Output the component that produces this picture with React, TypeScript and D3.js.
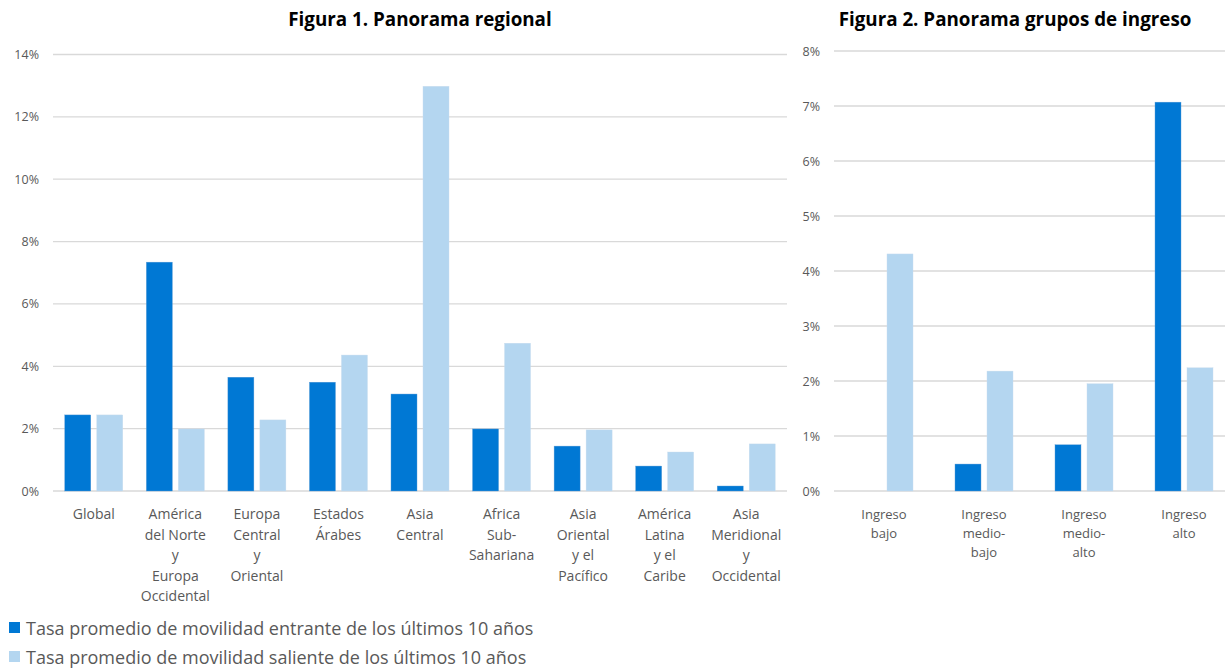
import React, { useEffect, useRef } from 'react';
import * as d3 from 'd3';

const regions = [
  ['Global'],
  ['América', 'del Norte', 'y', 'Europa', 'Occidental'],
  ['Europa', 'Central', 'y', 'Oriental'],
  ['Estados', 'Árabes'],
  ['Asia', 'Central'],
  ['Africa', 'Sub-', 'Sahariana'],
  ['Asia', 'Oriental', 'y el', 'Pacífico'],
  ['América', 'Latina', 'y el', 'Caribe'],
  ['Asia', 'Meridional', 'y', 'Occidental'],
];
const regionIn = [2.44, 7.34, 3.65, 3.49, 3.11, 1.99, 1.44, 0.8, 0.16];
const regionOut = [2.44, 1.99, 2.28, 4.36, 12.98, 4.74, 1.96, 1.25, 1.51];
const regionTicks = [0, 2, 4, 6, 8, 10, 12, 14];

const groups = [
  ['Ingreso', 'bajo'],
  ['Ingreso', 'medio-', 'bajo'],
  ['Ingreso', 'medio-', 'alto'],
  ['Ingreso', 'alto'],
];
const groupIn = [0, 0.49, 0.84, 7.07];
const groupOut = [4.31, 2.18, 1.95, 2.24];
const groupTicks = [0, 1, 2, 3, 4, 5, 6, 7, 8];

const seriesNames = [
  'Tasa promedio de movilidad entrante de los últimos 10 años',
  'Tasa promedio de movilidad saliente de los últimos 10 años',
];
const colors = { dark: '#0078D4', light: '#B4D6F0', grid: '#D9D9D9', text: '#595959' };
const font = '"Open Sans", "Noto Sans", sans-serif';

export default function App() {
  const ref = useRef<SVGSVGElement>(null);

  useEffect(() => {
    if (!ref.current) return;
    const svg = d3.select(ref.current);
    svg.selectAll('*').remove();

    const drawPanel = (opts: {
      labels: string[][]; a: number[]; b: number[]; ticks: number[];
      x0: number; x1: number; yTop: number; yBot: number; title: string; titleX: number;
      tickX: number; lineH: number; labelSize: number; barW: number; gap: number;
    }) => {
      const g = svg.append('g');
      const x = d3.scaleBand<number>().domain(opts.labels.map((_, i) => i)).range([opts.x0, opts.x1]);
      const y = d3.scaleLinear().domain([0, d3.max(opts.ticks)!]).range([opts.yBot, opts.yTop]);

      g.selectAll('line.grid').data(opts.ticks).enter().append('line')
        .attr('x1', opts.x0).attr('x2', opts.x1).attr('y1', d => y(d)).attr('y2', d => y(d))
        .attr('stroke', colors.grid).attr('stroke-width', 1.3);
      g.selectAll('text.tick').data(opts.ticks).enter().append('text')
        .attr('x', opts.tickX).attr('y', d => y(d) + 4.5).attr('text-anchor', 'end')
        .attr('font-family', font).attr('font-size', 12.5).attr('fill', colors.text)
        .text(d => `${d}%`);

      const bw = x.bandwidth();
      const off = (bw - 2 * opts.barW - opts.gap) / 2;
      g.selectAll('rect.a').data(opts.a).enter().append('rect')
        .attr('x', (_, i) => x(i)! + off).attr('width', opts.barW)
        .attr('y', d => y(d)).attr('height', d => opts.yBot - y(d))
        .attr('fill', colors.dark).attr('stroke', '#5b9bd5').attr('stroke-width', 0.4);
      g.selectAll('rect.b').data(opts.b).enter().append('rect')
        .attr('x', (_, i) => x(i)! + off + opts.barW + opts.gap).attr('width', opts.barW)
        .attr('y', d => y(d)).attr('height', d => opts.yBot - y(d))
        .attr('fill', colors.light).attr('stroke', '#c8dced').attr('stroke-width', 0.4);

      opts.labels.forEach((lines, i) => {
        const t = g.append('text').attr('text-anchor', 'middle')
          .attr('font-family', font).attr('font-size', opts.labelSize).attr('fill', colors.text);
        lines.forEach((ln, j) => {
          t.append('tspan').attr('x', x(i)! + bw / 2).attr('y', opts.yBot + 28 + j * opts.lineH).text(ln);
        });
      });

      g.append('text').attr('x', opts.titleX).attr('y', 26).attr('text-anchor', 'middle')
        .attr('font-family', font).attr('font-weight', 'bold').attr('font-size', 18.8).attr('fill', '#000')
        .text(opts.title);
    };

    drawPanel({
      labels: regions, a: regionIn, b: regionOut, ticks: regionTicks,
      x0: 53, x1: 787, yTop: 54.5, yBot: 491, title: 'Figura 1. Panorama regional', titleX: 420,
      tickX: 39, lineH: 20.5, labelSize: 14, barW: 26, gap: 6,
    });
    drawPanel({
      labels: groups, a: groupIn, b: groupOut, ticks: groupTicks,
      x0: 834, x1: 1234, yTop: 51, yBot: 491, title: 'Figura 2. Panorama grupos de ingreso', titleX: 1015,
      tickX: 820, lineH: 19, labelSize: 13, barW: 26, gap: 6,
    });

    const legend = svg.append('g');
    [colors.dark, colors.light].forEach((c, i) => {
      legend.append('rect').attr('x', 9).attr('y', 622 + i * 29).attr('width', 11).attr('height', 11).attr('fill', c);
      legend.append('text').attr('x', 26).attr('y', 635 + i * 29)
        .attr('font-family', font).attr('font-size', 18).attr('fill', colors.text).text(seriesNames[i]);
    });
  }, []);

  return (
    <svg ref={ref} width={1225} height={668}
      style={{ position: 'absolute', left: 0, top: 0, background: '#fff', display: 'block' }} />
  );
}
